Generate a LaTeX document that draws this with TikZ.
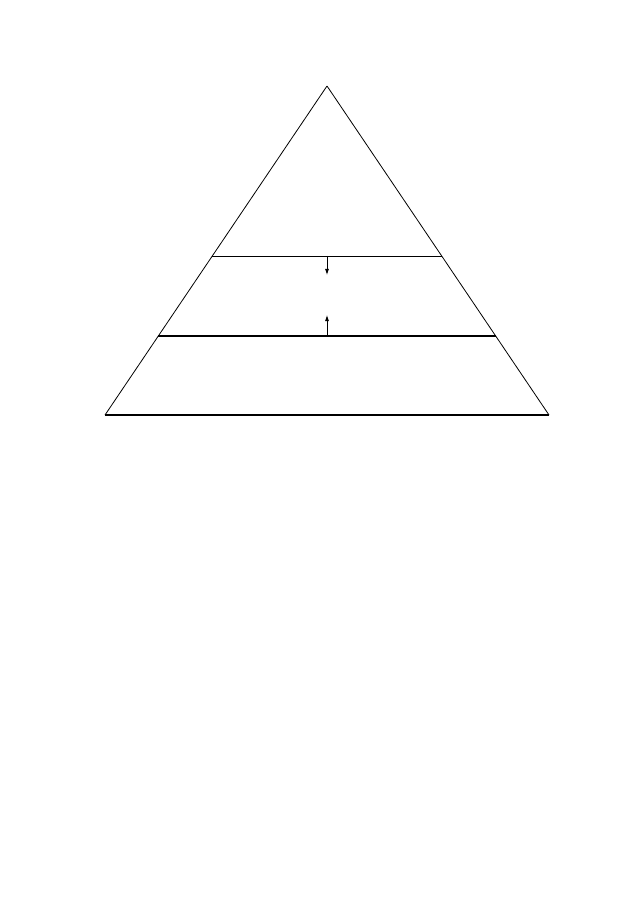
\documentclass[tikz,border=0pt]{standalone}
\usetikzlibrary{positioning,calc,arrows.meta}

\begin{document}
\begin{tikzpicture}[x=1pt,y=-1pt,
	side/.style={line width=0.8pt},
	layer/.style={line width=1.3pt},
	push/.style={line width=0.8pt, -{Latex[length=6pt,width=4pt]}}
]
	\useasboundingbox (0,0) rectangle (642,902);
	%% 三角形的顶点
	\coordinate (top) at (327,86);
	\coordinate (bl) at (105,415);
	\coordinate (br) at (549,415);
	% 两条横线的端点
	\coordinate (u1) at ($(top)!0.5167!(bl)$);
	\coordinate (u2) at ($(top)!0.5167!(br)$);
	\coordinate (l1) at ($(top)!0.7599!(bl)$);
	\coordinate (l2) at ($(top)!0.7599!(br)$);
	\coordinate (um) at ($(u1)!0.5!(u2)$);
	\coordinate (lm) at ($(l1)!0.5!(l2)$);
	% y 轴朝下, 所以 above 是往下
	\coordinate[above =19 of um] (ua);
	\coordinate[below =21 of lm] (la);
	% 三角形
	\draw[side] (top) -- (bl);
	\draw[side] (top) -- (br);
	\draw[layer] (bl) -- (br);
	% 横线
	\draw[side] (u1) -- (u2);
	\draw[layer] (l1) -- (l2);
	% 箭头
	\draw[push] (um) -- (ua);
	\draw[push] (lm) -- (la);
\end{tikzpicture}
\end{document}
